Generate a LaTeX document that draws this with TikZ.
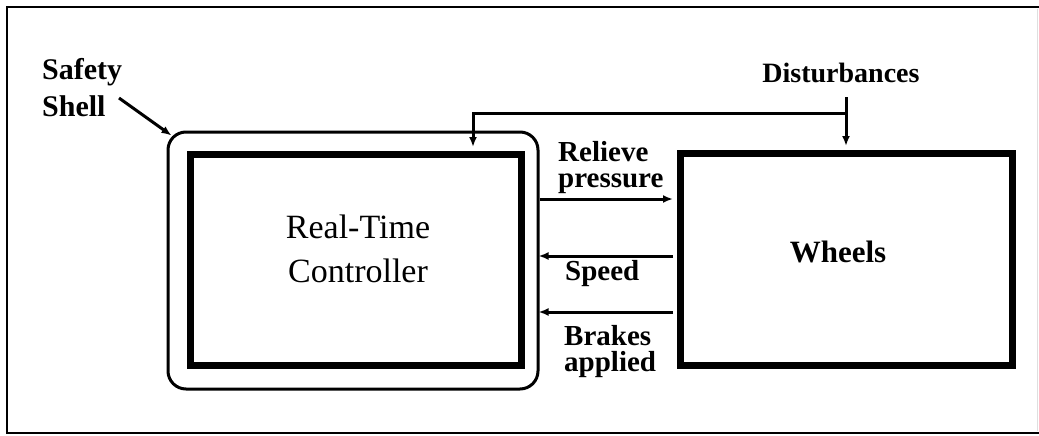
\documentclass[tikz,border=0pt]{standalone}
\usepackage{fontspec}
\setmainfont{Liberation Serif}
\usetikzlibrary{arrows.meta}
\begin{document}
\begin{tikzpicture}[x=1pt,y=-1pt,
  thickbox/.style={draw, line width=7pt, inner sep=0pt},
  shellbox/.style={draw, line width=3pt, rounded corners=18pt, inner sep=0pt},
  conn/.style={line width=3pt, -{Latex[length=10pt,width=8pt]}},
  lab/.style={font=\fontsize{29}{26}\selectfont\bfseries, inner sep=0pt},
  big/.style={font=\fontsize{34}{44}\selectfont, inner sep=0pt}]
\useasboundingbox (0,0) rectangle (1039,436);
\fill[white] (0,0) rectangle (1039,436);
\draw[line width=2.5pt] (1039,7) -- (7,7) -- (7,433) -- (1039,433);
\draw[line width=1pt, gray!25] (1037,9) -- (1037,431);

% boxes
\node[shellbox, minimum width=370pt, minimum height=257pt] (shell) at (353,260.5) {};
\node[thickbox, minimum width=331pt, minimum height=211pt] (rtc) at (355.5,259.5) {};
\node[thickbox, minimum width=332pt, minimum height=212pt] (wheels) at (846,259) {};

% texts (base anchor = baseline of the last line)
\node[lab, font=\fontsize{30}{36}\selectfont\bfseries, align=left, anchor=base west] (shelltxt) at (42,116) {Safety\\Shell};
\node[big, align=center, anchor=base] (rtctxt) at (358,282) {Real-Time\\Controller};
\node[lab, font=\fontsize{31}{30}\selectfont\bfseries, anchor=base] (wtxt) at (838,262) {Wheels};
\node[lab, font=\fontsize{28}{30}\selectfont\bfseries, anchor=base] (dist) at (841,82) {Disturbances};
\node[lab, align=left, anchor=base west] (rel) at (558,187) {Relieve\\pressure};
\node[lab, anchor=base west] (spdtxt) at (565,280) {Speed};
\node[lab, align=left, anchor=base west] (brk) at (564,371) {Brakes\\applied};

% connectors
\coordinate (sarrow) at (119,98);
\draw[conn] (sarrow) -- ([shift={(5,5)}]shell.north west);

\coordinate (relieve) at ([yshift=61.5pt]shell.east);
\draw[conn, shorten >=3.5pt] (relieve) -- (wheels.west |- relieve);

\coordinate (speed) at ([yshift=3pt]wheels.west);
\draw[conn, shorten <=3.5pt, shorten >=-1pt] (speed) -- (shell.east |- speed);

\coordinate (brakes) at ([yshift=-53pt]wheels.west);
\draw[conn, shorten <=3.5pt, shorten >=-1pt] (brakes) -- (shell.east |- brakes);

\coordinate (dtop) at ([yshift=-15pt]dist.base -| wheels.north);
\draw[conn, shorten >=3.5pt] (dtop) -- (wheels.north);

\coordinate (junc) at ([yshift=-31pt]dist.base -| wheels.north);
\draw[conn, shorten >=3.5pt] (junc) -| ([xshift=117.5pt]rtc.north);
\end{tikzpicture}
\end{document}
